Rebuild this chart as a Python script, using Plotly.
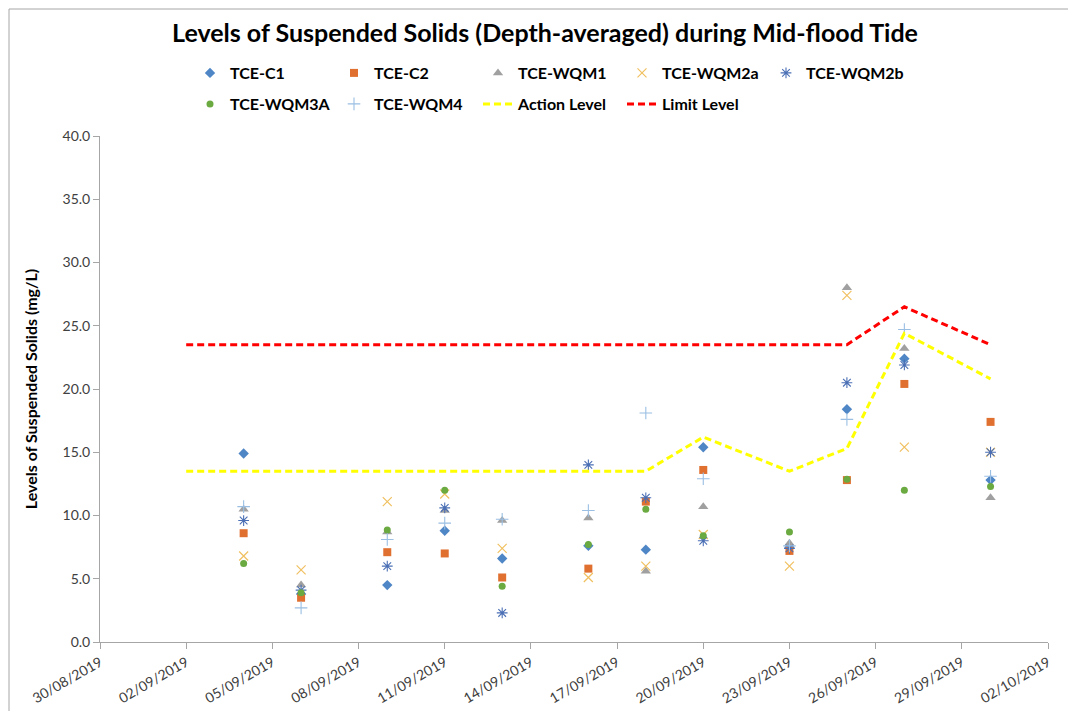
import plotly.graph_objects as go

# ---------------- data ----------------
dates = ["2019-09-04", "2019-09-06", "2019-09-09", "2019-09-11", "2019-09-13", "2019-09-16",
         "2019-09-18", "2019-09-20", "2019-09-23", "2019-09-25", "2019-09-27", "2019-09-30"]

tce_c1 = [14.9, 3.8, 4.5, 8.8, 6.6, 7.6, 7.3, 15.4, 7.5, 18.4, 22.4, 12.8]
tce_c2 = [8.6, 3.5, 7.1, 7.0, 5.1, 5.8, 11.1, 13.6, 7.2, 12.8, 20.4, 17.4]
tce_wqm1 = [10.5, 4.5, 8.7, 10.4, 9.6, 9.8, 5.6, 10.7, 7.8, 28.0, 23.2, 11.4]
tce_wqm2a = [6.8, 5.7, 11.1, 11.7, 7.4, 5.1, 6.0, 8.5, 6.0, 27.4, 15.4, 15.0]
tce_wqm2b = [9.6, 4.1, 6.0, 10.6, 2.3, 14.0, 11.4, 8.0, 7.4, 20.5, 21.9, 15.0]
tce_wqm3a = [6.2, 3.9, 8.85, 12.0, 4.4, 7.7, 10.5, 8.4, 8.7, 12.86, 12.0, 12.3]
tce_wqm4 = [10.7, 2.7, 8.1, 9.4, 9.7, 10.4, 18.1, 12.9, 7.6, 17.6, 24.7, 13.1]

level_dates = ["2019-09-02"] + dates
action_level = [13.5, 13.5, 13.5, 13.5, 13.5, 13.5, 13.5, 13.5, 16.2, 13.5, 15.3, 24.4, 20.8]
limit_level = [23.5, 23.5, 23.5, 23.5, 23.5, 23.5, 23.5, 23.5, 23.5, 23.5, 23.5, 26.5, 23.5]

y_ticks = [0, 5, 10, 15, 20, 25, 30, 35, 40]

# ---------------- figure ----------------
FONT = "Lato"
W, H = 1076, 711
OFF = 8  # page body margin: the figure is drawn 8px right / 8px down in the page

# target (on-screen) plot area
PL, PR, PT, PB = 100, 1048, 136, 642
ML = PL - OFF
MT = PT - OFF
MR = W - (PR - OFF)
MB = H - (PB - OFF)

series = [
    ("TCE-C1", tce_c1, dict(symbol="diamond", size=8, color="#4F86C6")),
    ("TCE-C2", tce_c2, dict(symbol="square", size=8, color="#E07030")),
    ("TCE-WQM1", tce_wqm1, dict(symbol="triangle-up", size=9, color="#A0A0A0")),
    ("TCE-WQM2a", tce_wqm2a, dict(symbol="x-thin-open", size=9, color="#F0C060",
                                  line=dict(width=1.2, color="#F0C060"))),
    ("TCE-WQM2b", tce_wqm2b, dict(symbol="asterisk-open", size=9, color="#4A6FB5",
                                  line=dict(width=1.1, color="#4A6FB5"))),
    ("TCE-WQM3A", tce_wqm3a, dict(symbol="circle", size=7, color="#6AAA40")),
    ("TCE-WQM4", tce_wqm4, dict(symbol="cross-thin-open", size=9, color="#9ABFE3",
                                line=dict(width=1.1, color="#9ABFE3"))),
]

fig = go.Figure()
for i, (name, vals, mk) in enumerate(series):
    fig.add_trace(go.Scatter(x=dates, y=vals, mode="markers", name=name, marker=mk,
                             legend="legend" if i < 5 else "legend2"))

fig.add_trace(go.Scatter(x=level_dates, y=action_level, mode="lines", name="Action Level",
                         line=dict(color="#FFFF00", width=3, dash="7px,4px"), legend="legend2"))
fig.add_trace(go.Scatter(x=level_dates, y=limit_level, mode="lines", name="Limit Level",
                         line=dict(color="#FF0000", width=3, dash="7px,4px"), legend="legend2"))

pw = PR - PL
ph = PB - PT


def px_x(p):
    return (p - PL) / pw


def px_y(p):
    return (PB - p) / ph


legend_common = dict(orientation="h", xanchor="left", yanchor="top",
                     font=dict(family=FONT, size=16, color="#000000", weight="bold"),
                     entrywidth=99, entrywidthmode="pixels",
                     bgcolor="rgba(0,0,0,0)", itemclick=False, tracegroupgap=0)

fig.update_layout(
    width=W, height=H,
    margin=dict(l=ML, r=MR, t=MT, b=MB, autoexpand=False),
    paper_bgcolor="white", plot_bgcolor="white",
    title=dict(text="<b>Levels of Suspended Solids (Depth-averaged) during Mid-flood Tide</b>",
               x=(545 - OFF) / W, xanchor="center", y=1 - (33 - OFF) / H, yanchor="middle",
               font=dict(family=FONT, size=25, color="#000000")),
    legend=dict(x=px_x(190), y=px_y(56), **legend_common),
    legend2=dict(x=px_x(190), y=px_y(87), **legend_common),
    xaxis=dict(type="date", range=["2019-08-30", "2019-10-02"],
               tick0="2019-08-30", dtick=3 * 86400000, tickformat="%d/%m/%Y",
               tickangle=-30, showgrid=False, zeroline=False, automargin=False,
               showline=True, linecolor="#A6A6A6", linewidth=1,
               ticks="outside", ticklen=6, tickcolor="#A6A6A6",
               tickfont=dict(family=FONT, size=14, color="#404040")),
    yaxis=dict(range=[0, 40], tickvals=y_ticks, tickformat=".1f",
               showgrid=False, zeroline=False, automargin=False,
               showline=True, linecolor="#A6A6A6", linewidth=1,
               ticks="outside", ticklen=6, tickcolor="#A6A6A6",
               tickfont=dict(family=FONT, size=14, color="#404040"),
               title=dict(text="<b>Levels of Suspended Solids (mg/L)</b>", standoff=20,
                          font=dict(family=FONT, size=16, color="#000000"))),
    shapes=[dict(type="rect", xref="paper", yref="paper",
                 x0=px_x(OFF + 1), x1=px_x(1090), y0=px_y(720), y1=px_y(OFF + 1),
                 line=dict(color="#A6A6A6", width=1), fillcolor="rgba(0,0,0,0)",
                 layer="below")],
)

fig.write_html("out.html")
